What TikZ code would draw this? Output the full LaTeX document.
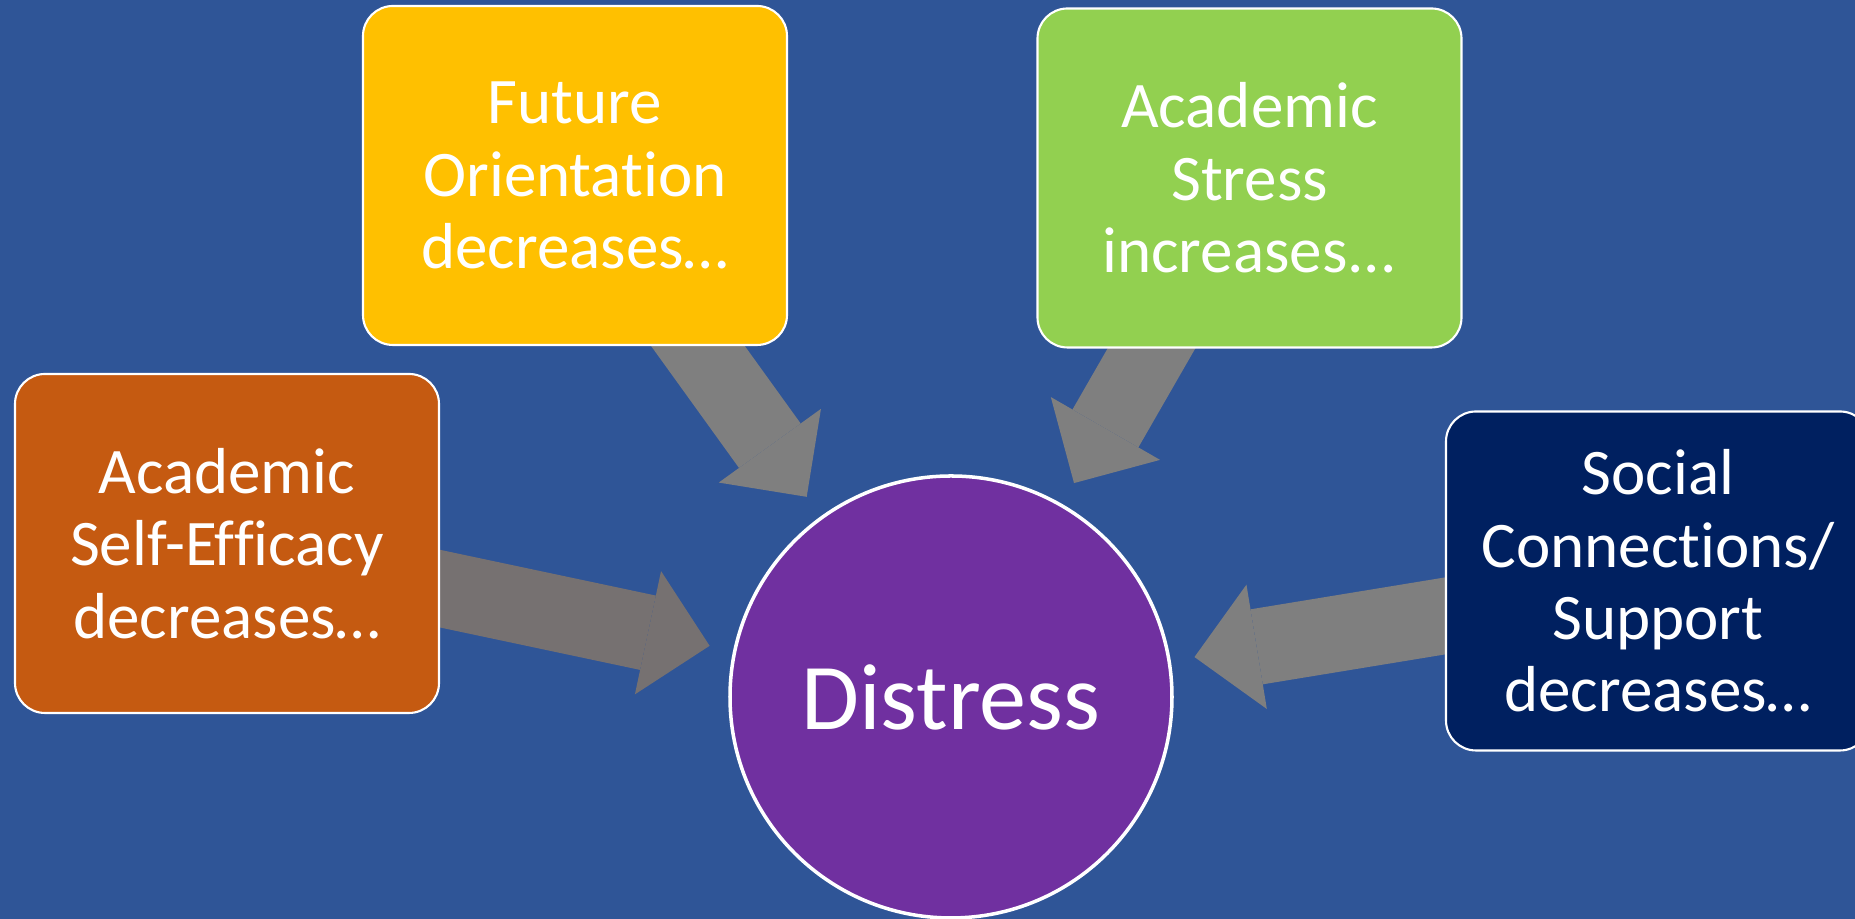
\documentclass[tikz,border=0pt]{standalone}
\usepackage{fontspec}
\setmainfont{Carlito}[RawFeature={-liga;-clig;-calt;-dlig}]
\usetikzlibrary{arrows.meta}

\definecolor{bgblue}{HTML}{2F5597}
\definecolor{futureyellow}{HTML}{FFC000}
\definecolor{stressgreen}{HTML}{92D050}
\definecolor{efficacyorange}{HTML}{C55A11}
\definecolor{socialnavy}{HTML}{002060}
\definecolor{distresspurple}{HTML}{7030A0}
\definecolor{arrowgray}{HTML}{7F7F7F}
\definecolor{arrowwarmgray}{HTML}{767171}

\pgfdeclarelayer{backfill}
\pgfdeclarelayer{arrowlayer}
\pgfsetlayers{backfill,arrowlayer,main}

\tikzset{
  factor/.style={draw=white, line width=0.6pt, rounded corners=0.3cm,
    minimum width=4.24cm, minimum height=3.39cm, text=white, align=center,
    font=\fontsize{18.5}{20.6}\selectfont},
  outcome/.style={circle, draw=white, line width=1pt, minimum size=4.42cm,
    text=white, font=\fontsize{26.8}{30}\selectfont},
  bigarrow/.style={line width=0.76cm,
    -{Triangle[width=1.26cm,length=0.63cm,line width=0pt]}, shorten >=0.24cm}
}

\begin{document}
\begin{tikzpicture}

\useasboundingbox (0,0) rectangle (18.55,9.19);
\clip (0,0) rectangle (18.55,9.19);

% Background
\begin{pgfonlayer}{backfill}
\fill[bgblue] (0,0) rectangle (18.55,9.19);
\end{pgfonlayer}

% Factors
\node[factor, fill=futureyellow] (future) at (5.75,7.435) {Future\\Orientation\\decreases…};
\node[factor, fill=stressgreen] (stress) at (12.495,7.41) {Academic\\Stress\\increases...};
\node[factor, fill=efficacyorange] (efficacy) at (2.27,3.755) {Academic\\Self-Efficacy\\decreases…};
\node[factor, fill=socialnavy] (social) at (16.58,3.38) {Social\\Connections/\\Support\\decreases…};

% Outcome
\node[outcome, fill=distresspurple] (distress) at (9.51,2.22) {Distress};

% Arrows into distress
\begin{pgfonlayer}{arrowlayer}
\draw[bigarrow, draw=arrowwarmgray] (efficacy.center) -- (distress);
\draw[bigarrow, draw=arrowgray] (future.center) -- (distress);
\draw[bigarrow, draw=arrowgray] (stress.center) -- (distress);
\draw[bigarrow, draw=arrowgray] (social.center) -- (distress);
\end{pgfonlayer}

\end{tikzpicture}
\end{document}
